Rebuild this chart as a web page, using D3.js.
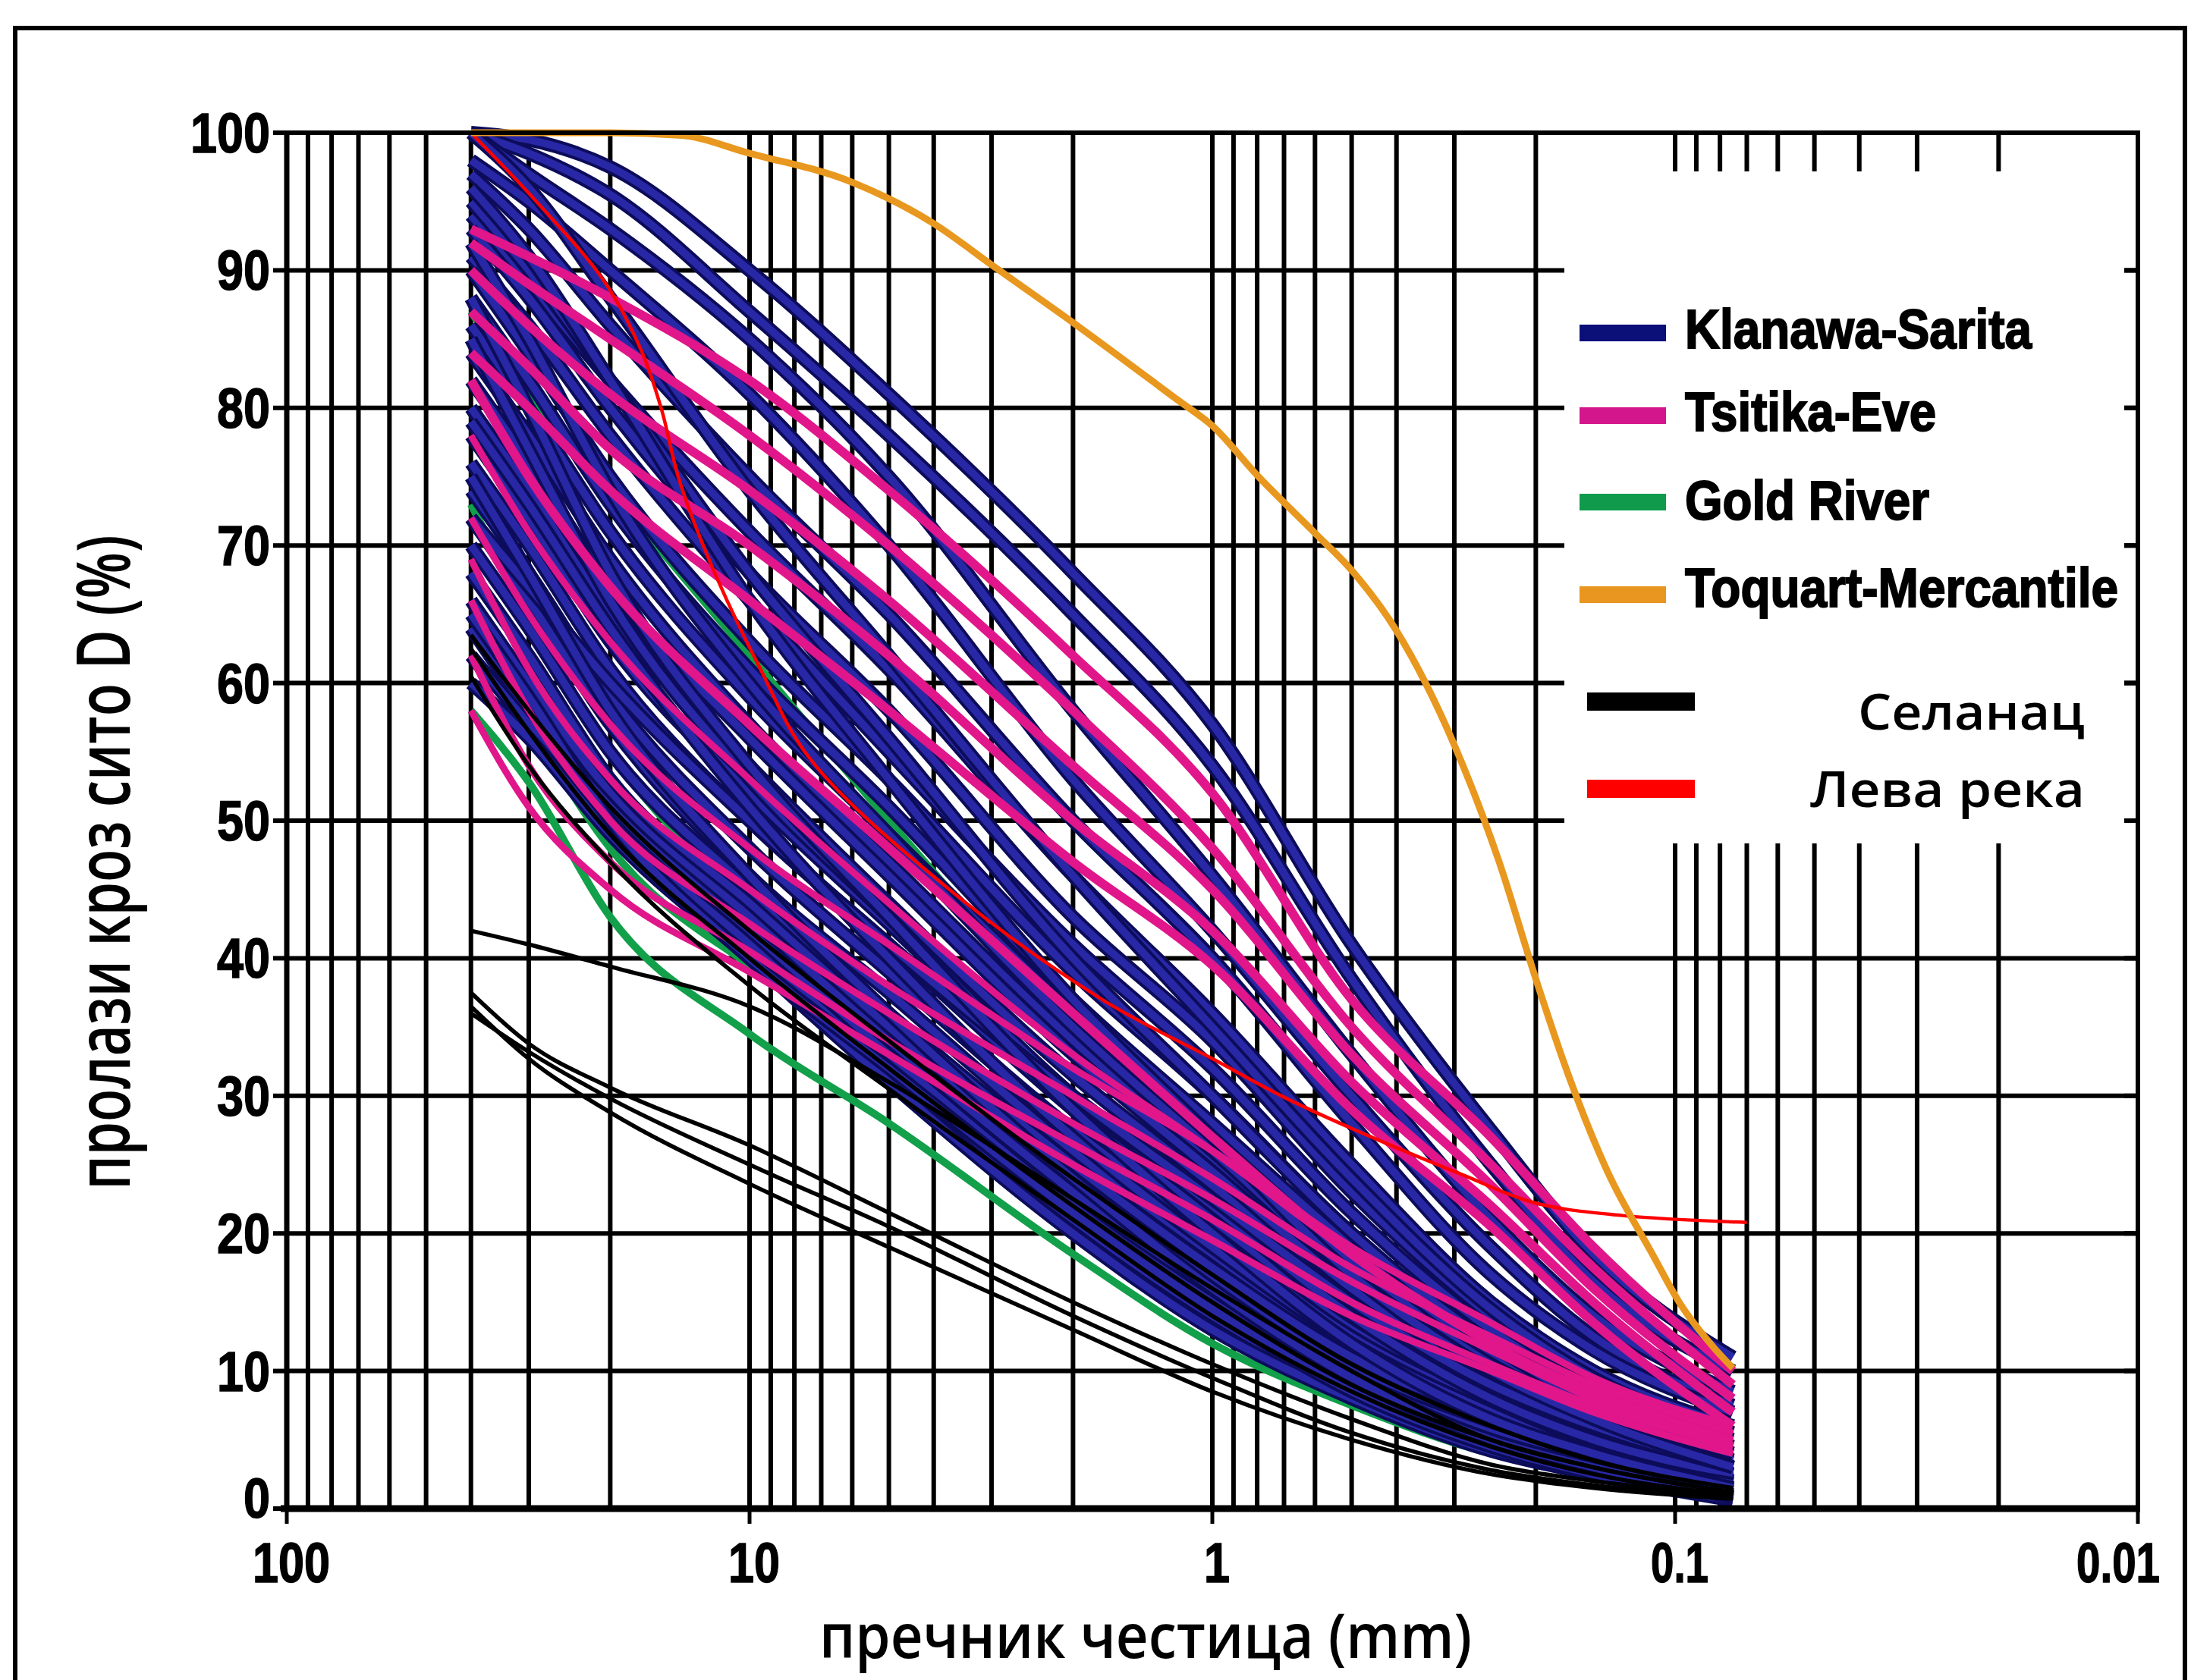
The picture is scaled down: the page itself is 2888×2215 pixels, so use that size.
<!DOCTYPE html>
<html><head><meta charset="utf-8">
<script src="https://cdn.jsdelivr.net/npm/d3@7"></script>
<style>html,body{margin:0;padding:0;background:#fff;overflow:hidden} svg{display:block}</style>
</head><body>
<svg id="chart" width="2888" height="2215"></svg>
<script>
// ---------- DATA ----------
const sizes = [40, 30, 20, 10, 5, 2, 1, 0.5, 0.25, 0.15, 0.075];

const klanawaSarita = [
  [100, 99.5, 97.5, 90, 81, 68, 57, 41, 27.5, 18.5, 11],
  [100, 98.5, 95.5, 87, 78, 65, 54, 38.5, 25, 16.5, 10],
  [100, 97, 93, 85, 75, 58, 46, 33, 21, 14, 8.5],
  [98, 95, 90, 81, 70, 53, 42, 30, 19, 12.5, 7.5],
  [97, 93, 86, 75, 65, 50, 40, 28, 17, 11.5, 7],
  [94, 89, 82, 71, 61, 46, 36, 25, 15, 10, 6],
  [93, 88, 80, 68, 58, 43, 34, 23, 14, 9, 5.5],
  [91, 86, 78, 66, 55, 41, 32, 21.5, 13, 8.5, 5],
  [90, 84, 75, 63, 53, 39, 30, 20, 12, 8, 4.5],
  [88, 82, 73, 61, 51, 37, 28, 19, 11, 7, 4],
  [86, 80, 71, 59, 49, 36, 27, 18, 10.5, 7, 4],
  [84, 78, 69, 57, 47, 34, 25.5, 17, 10, 6.5, 3.5],
  [82, 76, 67, 56, 46, 33, 24.5, 16, 9.5, 6, 3],
  [80, 74, 65, 54, 44, 31.5, 23.5, 15, 9, 5.5, 3],
  [78, 72, 63, 52, 42.5, 30, 22, 14, 8.5, 5, 2.5],
  [76, 70, 61, 50, 41, 29, 21, 13, 8, 4.5, 2],
  [74, 68, 59, 48, 39, 27.5, 20, 12.5, 7.5, 4.5, 2],
  [72, 66, 57, 46, 37.5, 26, 18.5, 11.5, 7, 4, 1.8],
  [70, 64, 55, 45, 36, 25, 17.5, 11, 6.5, 3.8, 1.5],
  [68, 62, 53, 44, 35, 24, 16.5, 10, 6, 3.5, 1.3],
  [66, 60, 52, 43, 34, 23, 15.5, 9.5, 5.5, 3.2, 1.2],
  [64, 58, 51, 42, 33, 22, 15, 9, 5, 3, 1],
  [62, 57, 50, 41, 32, 21, 14, 8.5, 4.5, 2.7, 0.9],
  [60, 56, 49, 40, 31, 20, 13, 8, 4.2, 2.5, 0.8],
  [85, 77, 66, 53, 43, 30, 22, 14, 8, 5, 2.5],
  [92, 85, 74, 60, 49, 35, 26, 17, 10, 6.5, 3.5],
  [95, 90, 82, 68, 56, 40, 30, 20, 12, 7.5, 4],
  [100, 96, 88, 74, 62, 46, 35, 24, 14.5, 9.5, 5.5],
  [72, 67, 60, 50, 41, 30, 22.5, 15, 9, 6, 3],
  [79, 73, 64, 51, 40, 27, 19, 12, 7, 4, 1.8],
  [65, 59, 50, 40, 32, 21.5, 14.5, 8.5, 4.5, 2.5, 0.6],
  [75, 68, 58, 46, 36, 24, 16, 9.5, 5, 3, 0.8],
  [88, 80, 68, 54, 43, 29, 20, 12, 6.5, 4, 1.5],
  [96, 91, 82, 66, 53, 37, 27, 17, 10, 6.5, 3]
];

// Tsitika-Eve: curves above the main band, and curves starting low that cross it
const tsitikaEveUpper = [
  [93, 91, 88, 82, 74, 62, 52, 37, 27, 19, 10],
  [92, 89, 85, 78, 70, 58, 48, 35, 25, 17.5, 9],
  [90, 86, 81, 74, 66, 54, 45, 33, 23.5, 16, 8],
  [87, 83, 77, 70, 62, 50, 42, 31, 22, 15, 7],
  [84, 80, 74, 66, 58, 47, 39.5, 29, 20.5, 13.5, 6],
  [82, 75, 67, 57, 48, 36, 27, 18.5, 12, 8, 4.5]
];
const tsitikaEveLower = [
  [72, 65, 57, 48, 41, 32, 26, 19, 13.5, 9.5, 6],
  [69, 61, 53, 45, 38, 30, 24, 17.5, 12.5, 9, 5.5],
  [66, 58, 50, 42.5, 36, 28, 22.5, 16.5, 11.5, 8, 5],
  [62, 54, 47, 40.5, 34, 26.5, 21, 15, 10.5, 7.5, 4.5],
  [58, 51, 45, 39, 33, 25, 19.5, 14, 10, 7, 4],
  [78, 71, 63, 53, 44, 33, 26, 18.5, 12, 8.5, 5]
];

const goldRiver = [
  [58, 52.8, 43, 34.5, 28, 18.5, 12, 7.5, 4, 2.5, 1.5],
  [87, 81, 74, 62, 50, 35, 25, 16, 10, 7, 4],
  [73, 65, 55, 44, 36, 25, 17, 10.5, 6, 4, 2],
  [64, 57, 48, 39.5, 33.5, 24.5, 17.5, 12, 7.5, 5, 2.5]
];

const selanac = [
  [63.5, 58, 51, 42, 34, 24, 17, 10.5, 6, 3.5, 1.5],
  [62.5, 56.5, 49, 40, 32, 22, 15, 9, 5, 3, 1.2],
  [42, 41, 39.4, 36.5, 31, 22.5, 16, 10, 5, 3, 1.2],
  [37.5, 33.8, 30.6, 26.4, 21.5, 15, 10.5, 6.5, 3.2, 2, 1],
  [36.5, 32.7, 28.8, 23.6, 19, 13, 8.5, 5, 2.5, 1.5, 0.7],
  [36, 33.2, 29.8, 25, 20.5, 14, 9.5, 5.5, 2.8, 1.7, 0.8],
  [60.5, 54, 47, 38, 30.5, 21, 14, 8.5, 4.5, 2.5, 1]
];

const toquartSizes = [40, 20, 14, 10, 6, 4, 3, 2, 1.18, 1, 0.8, 0.6, 0.5, 0.4, 0.3, 0.24, 0.2, 0.17, 0.14, 0.112, 0.098, 0.082, 0.075];
const toquartPassing = [100, 100, 99.8, 98.5, 96.4, 93.4, 90.4, 86.2, 80.5, 78.7, 75.1, 70.9, 68.2, 63.8, 55.5, 47, 38.5, 31.5, 24.5, 18.5, 15, 11.6, 10.2];

const levaRekaSizes = [40, 28.7, 20.6, 17.1, 15.5, 14.2, 12.1, 9.5, 7.4, 3.7, 1.73, 1, 0.7, 0.49, 0.29, 0.2, 0.13, 0.07];
const levaRekaPassing = [100, 94.9, 89.2, 84.1, 79.9, 74.8, 68.6, 61.1, 54.5, 45, 37, 32.7, 29.9, 27.5, 24.3, 22.2, 21.3, 20.8];

const yTicks = [0, 10, 20, 30, 40, 50, 60, 70, 80, 90, 100];
const xMajorTicks = [100, 10, 1, 0.1, 0.01];
const xTickLabels = ["100", "10", "1", "0.1", "0.01"];

const legendNames = ["Klanawa-Sarita", "Tsitika-Eve", "Gold River", "Toquart-Mercantile"];
const legendColors = ["#0b0f78", "#d4168c", "#0f9a4c", "#e8961f"];
const legendLocalNames = ["Селанац", "Лева река"];
const legendLocalColors = ["#000000", "#ff0000"];

const xTitle = "пречник честица (mm)";
const yTitle = "пролази кроз сито D (%)";

// ---------- CHART ----------
const svg = d3.select("#chart");
const x = d3.scaleLog().domain([100, 0.01]).range([378, 2818]);
const y = d3.scaleLinear().domain([0, 100]).range([1989, 175]);

svg.append("rect").attr("width", 2888).attr("height", 2215).attr("fill", "#fff");
svg.append("rect").attr("x", 20).attr("y", 37).attr("width", 2860).attr("height", 2400)
  .attr("fill", "none").attr("stroke", "#000").attr("stroke-width", 6);

// grid
const grid = svg.append("g");
const vt = x.ticks();
grid.selectAll("line.v").data(vt).join("line")
  .attr("x1", d => x(d)).attr("x2", d => x(d))
  .attr("y1", y(100)).attr("y2", y(0))
  .attr("stroke", "#000").attr("stroke-width", 6);
grid.selectAll("line.h").data(yTicks).join("line")
  .attr("x1", x(100)).attr("x2", x(0.01))
  .attr("y1", d => y(d)).attr("y2", d => y(d))
  .attr("stroke", "#000").attr("stroke-width", 6);

// legend background covering grid
svg.append("rect").attr("x", 2062).attr("y", 226).attr("width", 738).attr("height", 886).attr("fill", "#fff");

// data lines
const line = d3.line().x(d => x(d[0])).y(d => y(d[1])).curve(d3.curveMonotoneX);
const toPts = vals => sizes.map((s, i) => [s, vals[i]]);
const data = svg.append("g").attr("fill", "none").attr("stroke-linejoin", "round");

goldRiver.forEach(v => data.append("path").attr("d", line(toPts(v)))
  .attr("stroke", "#12a04a").attr("stroke-width", 10));

klanawaSarita.forEach(v => {
  const d = line(toPts(v));
  data.append("path").attr("d", d).attr("stroke", "#0c0c5a").attr("stroke-width", 18);
  data.append("path").attr("d", d).attr("stroke", "#2828a6").attr("stroke-width", 10);
});

tsitikaEveLower.forEach(v => data.append("path").attr("d", line(toPts(v)))
  .attr("stroke", "#e0168a").attr("stroke-width", 9));

tsitikaEveUpper.forEach(v => data.append("path").attr("d", line(toPts(v)))
  .attr("stroke", "#e0168a").attr("stroke-width", 12));

selanac.forEach(v => data.append("path").attr("d", line(toPts(v)))
  .attr("stroke", "#000").attr("stroke-width", 5.5));

data.append("path").attr("d", d3.line().x(d => x(d[0])).y(d => y(d[1])).curve(d3.curveCatmullRom.alpha(0.5))(levaRekaSizes.map((s, i) => [s, levaRekaPassing[i]])))
  .attr("stroke", "#ff0000").attr("stroke-width", 4.5);

data.append("path").attr("d", line(toquartSizes.map((s, i) => [s, toquartPassing[i]])))
  .attr("stroke", "#e8981f").attr("stroke-width", 9);

// axes
const ax = svg.append("g").attr("stroke", "#000");
ax.append("line").attr("x1", x(100)).attr("x2", x(100)).attr("y1", y(100) - 3).attr("y2", y(0)).attr("stroke-width", 7);
ax.append("line").attr("x1", x(0.01)).attr("x2", x(0.01)).attr("y1", y(100) - 3).attr("y2", y(0)).attr("stroke-width", 6);
ax.append("line").attr("x1", x(100) - 8).attr("x2", x(0.01) + 3).attr("y1", y(0)).attr("y2", y(0)).attr("stroke-width", 9);
ax.append("line").attr("x1", x(100)).attr("x2", x(0.01)).attr("y1", y(100)).attr("y2", y(100)).attr("stroke-width", 6);
ax.selectAll("line.lt").data(yTicks).join("line")
  .attr("x1", x(100) - 18).attr("x2", x(100)).attr("y1", d => y(d)).attr("y2", d => y(d)).attr("stroke-width", 6);
ax.selectAll("line.rt").data(yTicks).join("line")
  .attr("x1", x(0.01) - 18).attr("x2", x(0.01)).attr("y1", d => y(d)).attr("y2", d => y(d)).attr("stroke-width", 6);
ax.selectAll("line.bt").data(xMajorTicks).join("line")
  .attr("x1", d => x(d)).attr("x2", d => x(d)).attr("y1", y(0)).attr("y2", y(0) + 20).attr("stroke-width", 5);

// tick labels
const tl = svg.append("g").attr("font-family", "Liberation Sans, Arial, sans-serif")
  .attr("font-weight", "bold").attr("font-size", 74).attr("fill", "#000");
tl.selectAll("text.y").data(yTicks).join("text")
  .attr("x", 356).attr("y", d => d === 0 ? y(d) + 12 : y(d) + 26).attr("text-anchor", "end")
  .attr("textLength", d => String(d).length * 35).attr("lengthAdjust", "spacingAndGlyphs")
  .attr("stroke", "#000").attr("stroke-width", 1.5)
  .text(d => d);
tl.selectAll("text.x").data(xMajorTicks).join("text")
  .attr("x", d => Math.min(x(d) + 6, 2792)).attr("y", 2086).attr("text-anchor", "middle")
  .attr("textLength", (d, i) => { const s = xTickLabels[i]; return s.replace(".", "").length * 34 + (s.includes(".") ? 8 : 0); })
  .attr("lengthAdjust", "spacingAndGlyphs")
  .attr("stroke", "#000").attr("stroke-width", 1.5)
  .text((d, i) => xTickLabels[i]);

// axis titles
svg.append("text").attr("x", 1510).attr("y", 2186).attr("text-anchor", "middle")
  .attr("font-family", "Open Sans, sans-serif").attr("font-weight", 600).attr("font-size", 82)
  .attr("textLength", 860).attr("lengthAdjust", "spacingAndGlyphs").text(xTitle);
svg.append("text").attr("transform", "translate(171,1137) rotate(-90)").attr("text-anchor", "middle")
  .attr("font-family", "Open Sans, sans-serif").attr("font-weight", 600).attr("font-size", 98)
  .attr("textLength", 863).attr("lengthAdjust", "spacingAndGlyphs").text(yTitle);

// legend
const lg = svg.append("g");
const legY = [439, 548, 662, 784];
const legBase = [459, 568, 685, 800];
const legLen = [457, 331, 322, 571];
legendNames.forEach((n, i) => {
  lg.append("line").attr("x1", 2082).attr("x2", 2196).attr("y1", legY[i]).attr("y2", legY[i])
    .attr("stroke", legendColors[i]).attr("stroke-width", 22);
  lg.append("text").attr("x", 2221).attr("y", legBase[i])
    .attr("font-family", "Liberation Sans, Arial, sans-serif").attr("font-weight", "bold").attr("font-size", 72)
    .attr("stroke", "#000").attr("stroke-width", 2)
    .attr("textLength", legLen[i]).attr("lengthAdjust", "spacingAndGlyphs").text(n);
});
const locY = [925, 1040];
const locBase = [962, 1064];
const locLen = [299, 362];
legendLocalNames.forEach((n, i) => {
  lg.append("line").attr("x1", 2092).attr("x2", 2234).attr("y1", locY[i]).attr("y2", locY[i])
    .attr("stroke", legendLocalColors[i]).attr("stroke-width", 24);
  lg.append("text").attr("x", 2748).attr("y", locBase[i]).attr("text-anchor", "end")
    .attr("font-family", "Open Sans, sans-serif").attr("font-weight", 600).attr("font-size", 66)
    .attr("textLength", locLen[i]).attr("lengthAdjust", "spacingAndGlyphs").text(n);
});
</script>
</body></html>
